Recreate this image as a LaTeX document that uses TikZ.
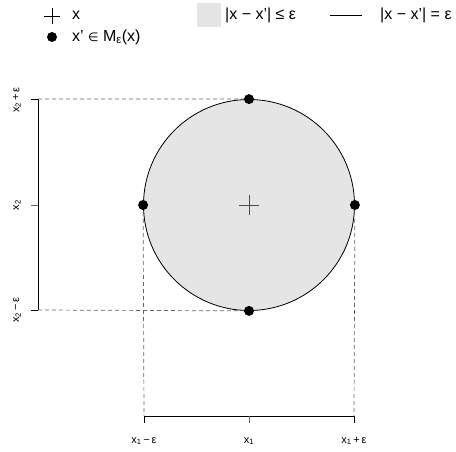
\documentclass[tikz,border=0pt]{standalone}
\usepackage{fontspec}
\setmainfont{Liberation Sans}
\newfontfamily\symfont{DejaVu Sans}
\usetikzlibrary{shapes.misc}

\begin{document}
\begin{tikzpicture}[
        x=1pt, y=-1pt,
        ball/.style={draw, circle, fill=black!10, line width=0.8pt, minimum size=211pt, inner sep=0pt},
        dot/.style={circle, fill=black, minimum size=10pt, inner sep=0pt},
        plusmark/.style={draw, cross out, rotate=45, line width=0.7pt, minimum size=10pt, inner sep=0pt},
        guide/.style={black!60, line width=0.7pt, dash pattern=on 4pt off 3pt},
        axis/.style={line width=0.8pt},
        lbl/.style={font=\fontsize{11}{12}\selectfont, inner sep=0pt},
        leg/.style={font=\fontsize{16}{18}\selectfont, anchor=west, inner sep=0pt}
    ]
        \useasboundingbox (0,0) rectangle (456,452);
        % legend
        \node[plusmark] (legplus) at (52,16) {};
        \node[leg] (legx) at (72,15) {x};
        \node[dot] (legdot) at (52,37) {};
        \node[leg] (legm) at (72,37) {x' {\symfont\fontsize{12}{16}\selectfont ∈} M\textsubscript{ε}(x)};
        \node[fill=black!10, minimum size=24pt, inner sep=0pt] (legsq) at (209,15) {};
        \node[leg] (legle) at (225,15) {|x − x'| ≤ ε};
        \coordinate (legla) at (330,15);
        \coordinate (leglb) at (362,15);
        \draw[line width=0.7pt] (legla) -- (leglb);
        \node[leg] (legeq) at (380,15) {|x − x'| = ε};

        % ball and boundary points
        \node[ball] (ball) at (249,205) {};
        \node[plusmark, minimum size=13pt, line width=0.6pt, black!70] (cx) at (ball.center) {};

        % axes
        \coordinate (ytop) at (38,99);
        \coordinate (ymid) at (38,205);
        \coordinate (ybot) at (38,310);
        \coordinate (xlo) at (144,416);
        \coordinate (xmid) at (249,416);
        \coordinate (xhi) at (354,416);
        \draw[axis] (ytop) -- (ybot);
        \draw[axis] (ytop) -- ++(-7,0);
        \draw[axis] (ybot) -- ++(-7,0);
        \draw[axis, black!60] (ymid) -- ++(-7,0);
        \draw[axis] (xlo) -- (xhi);
        \draw[axis] (xlo) -- ++(0,7);
        \draw[axis] (xhi) -- ++(0,7);
        \draw[axis, black!60] (xmid) -- ++(0,7);

        \node[lbl, rotate=90] (lytop) at (17,100) {x\textsubscript{2}\,+\,ε};
        \node[lbl, rotate=90] (lymid) at (17,205) {x\textsubscript{2}};
        \node[lbl, rotate=90] (lybot) at (17,310) {x\textsubscript{2}\,−\,ε};
        \node[lbl] (lxlo) at (144,441) {x\textsubscript{1}\,−\,ε};
        \node[lbl] (lxmid) at (249,441) {x\textsubscript{1}};
        \node[lbl] (lxhi) at (354,441) {x\textsubscript{1}\,+\,ε};

        % guides
        \draw[guide] (ytop) -- (ball.north);
        \draw[guide] (ybot) -- (ball.south);
        \draw[guide] (ball.west) -- (xlo);
        \draw[guide] (ball.east) -- (xhi);

        \node[dot] (dtop) at (ball.north) {};
        \node[dot] (dbot) at (ball.south) {};
        \node[dot] (dleft) at (ball.west) {};
        \node[dot] (dright) at (ball.east) {};
    \end{tikzpicture}
\end{document}
